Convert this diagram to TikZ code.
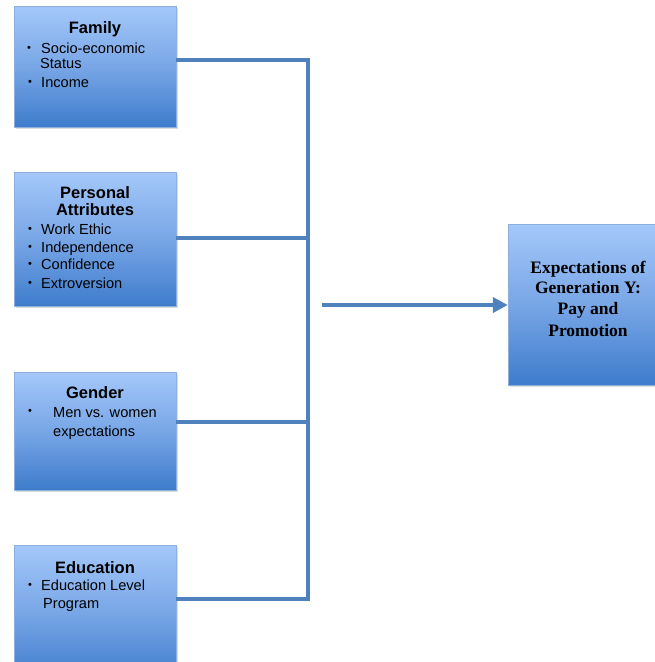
\documentclass[tikz,border=0pt]{standalone}
\usepackage{fontspec}
\setmainfont{Liberation Sans}
\newfontfamily\serifb{Liberation Serif}
\usetikzlibrary{arrows.meta,shadows}
\definecolor{boxtop}{RGB}{164,200,250}
\definecolor{boxmid}{RGB}{120,166,230}
\definecolor{boxbot}{RGB}{62,124,204}
\definecolor{boxedge}{RGB}{140,175,220}
\definecolor{conncol}{RGB}{79,129,189}
\tikzset{
  x=1pt, y=-1pt,
  factorbox/.style={draw=boxedge, line width=0.8pt, top color=boxtop, bottom color=boxbot, middle color=boxmid,
    drop shadow={opacity=0.25, shadow xshift=2pt, shadow yshift=-2pt}},
  ttl/.style={font=\fontsize{16.5}{20}\selectfont\bfseries, anchor=base, inner sep=0pt},
  itm/.style={font=\fontsize{14.6}{17}\selectfont, anchor=base west, inner sep=0pt},
  bul/.style={font=\fontsize{11}{12}\selectfont, anchor=center, inner sep=0pt},
  outtxt/.style={font=\serifb\fontsize{17.5}{21}\selectfont\bfseries, anchor=base, inner sep=0pt},
  conn/.style={draw=conncol, line width=3.8pt, line join=miter},
  arr/.style={conn, -{Triangle[length=15pt,width=15pt]}}
}
\begin{document}
\begin{tikzpicture}
\useasboundingbox (0,0) rectangle (655,662);
\clip (0,0) rectangle (655,662);
% boxes
\path[factorbox] (14,6) rectangle (176,127);
\node[inner sep=0pt, minimum width=162pt, minimum height=121pt] (fam) at (95,66.5) {};
\path[factorbox] (14,172) rectangle (176,306);
\node[inner sep=0pt, minimum width=162pt, minimum height=134pt] (pers) at (95,239) {};
\path[factorbox] (14,372) rectangle (176,490);
\node[inner sep=0pt, minimum width=162pt, minimum height=118pt] (gen) at (95,431) {};
\path[factorbox] (14,545) rectangle (176,680);
\node[inner sep=0pt, minimum width=162pt, minimum height=135pt] (edu) at (95,612.5) {};
\path[factorbox] (508,224) rectangle (668,385);
\node[inner sep=0pt, minimum width=160pt, minimum height=161pt] (out) at (588,304.5) {};
% Family text
\node[ttl] (famt) at (95,33) {Family};
\node[bul] (fb1) at (29,49) {\textbullet};
\node[itm] (f1) at (41,53) {Socio-economic};
\node[itm] (f2) at (40,68) {Status};
\node[bul] (fb2) at (30,83) {\textbullet};
\node[itm] (f3) at (41,87) {Income};
% Personal text
\node[ttl] (perst1) at (95,198) {Personal};
\node[ttl] (perst2) at (95,215) {Attributes};
\node[bul] (pb1) at (30,230) {\textbullet};
\node[itm] (p1) at (41,234) {Work Ethic};
\node[bul] (pb2) at (30,248) {\textbullet};
\node[itm] (p2) at (41,252) {Independence};
\node[bul] (pb3) at (30,265) {\textbullet};
\node[itm] (p3) at (41,269) {Confidence};
\node[bul] (pb4) at (30,284) {\textbullet};
\node[itm] (p4) at (41,288) {Extroversion};
% Gender text
\node[ttl] (gent) at (95,398) {Gender};
\node[bul] (gb1) at (30,412) {\textbullet};
\node[itm] (g1) at (53,417) {Men vs. women};
\node[itm] (g2) at (53,436) {expectations};
% Education text
\node[ttl] (edut) at (95,573) {Education};
\node[bul] (eb1) at (30,586) {\textbullet};
\node[itm] (e1) at (41,590) {Education Level};
\node[itm] (e2) at (43,608) {Program};
% Output text
\node[outtxt] (o1) at (588,273) {Expectations of};
\node[outtxt] (o2) at (588,293) {Generation Y:};
\node[outtxt] (o3) at (588,314) {Pay and};
\node[outtxt] (o4) at (588,336) {Promotion};
% connectors
\coordinate (jtop) at (308,60);
\coordinate (jp) at (308,238);
\coordinate (jg) at (308,422);
\coordinate (jbot) at (308,599);
\coordinate (astart) at (322,305);
\draw[conn] (fam.east |- jtop) -- (jtop) -- (jbot) -- (edu.east |- jbot);
\draw[conn] (pers.east |- jp) -- (jp);
\draw[conn] (gen.east |- jg) -- (jg);
\draw[arr] (astart) -- (out.west |- astart);
\end{tikzpicture}
\end{document}
